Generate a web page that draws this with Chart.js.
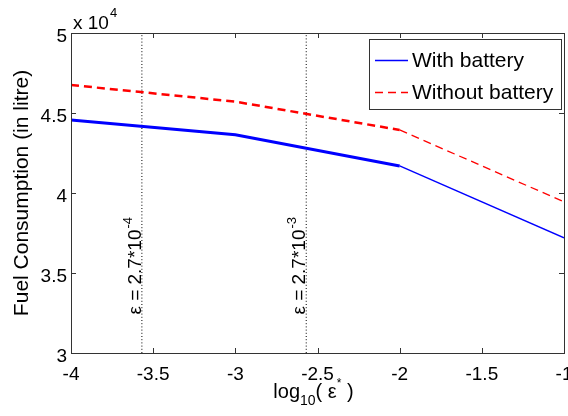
<!DOCTYPE html>
<html><head><meta charset="utf-8">
<script src="https://cdn.jsdelivr.net/npm/chart.js@4/dist/chart.umd.min.js"></script>
<style>html,body{margin:0;padding:0;background:#fff}canvas{display:block}</style>
</head><body>
<canvas id="c" width="568" height="416"></canvas>
<script>
// ---- data ----
const logEps = [-4, -3, -2, -1];
const withBattery = [44560, 43640, 41690, 37200];
const withoutBattery = [46750, 45710, 43940, 39450];
const seriesNames = ['With battery', 'Without battery'];
const epsMarkers = [2.7e-4, 2.7e-3];
const epsExponents = ['-4', '-3'];
const yRange = [30000, 50000];
const xRange = [-4, -1];

const FONT = "'Liberation Sans', Arial, Helvetica, sans-serif";
const AX = '#333333';

function pts(xs, ys) { return xs.map((x, i) => ({x: x, y: ys[i]})); }
const markerSets = epsMarkers.map(e => ({
  label: 'marker', data: [{x: Math.log10(e), y: yRange[0]}, {x: Math.log10(e), y: yRange[1]}],
  borderColor: '#000', borderWidth: 1, borderDash: [1, 2.2], pointRadius: 0, fill: false
}));

const thickBlue = ctx => (ctx.p1.parsed.x <= -2 + 1e-9 ? 3 : 1.4);
const thickRed = ctx => (ctx.p1.parsed.x <= -2 + 1e-9 ? 2.5 : 1.3);

const boxPlugin = {
  id: 'box',
  afterDraw(chart) {
    const {ctx, chartArea: a, scales: {x, y}} = chart;
    ctx.save();
    ctx.strokeStyle = AX; ctx.lineWidth = 1;
    ctx.strokeRect(Math.round(a.left) + 0.5, Math.round(a.top) + 0.5, Math.round(a.right - a.left), Math.round(a.bottom - a.top));
    const tl = 5;
    ctx.beginPath();
    x.ticks.forEach(t => {
      const px = Math.round(x.getPixelForValue(t.value)) + 0.5;
      ctx.moveTo(px, a.bottom); ctx.lineTo(px, a.bottom - tl);
      ctx.moveTo(px, a.top); ctx.lineTo(px, a.top + tl);
    });
    y.ticks.forEach(t => {
      const py = Math.round(y.getPixelForValue(t.value)) + 0.5;
      ctx.moveTo(a.left, py); ctx.lineTo(a.left + tl, py);
      ctx.moveTo(a.right, py); ctx.lineTo(a.right - tl, py);
    });
    ctx.stroke();

    ctx.fillStyle = '#000';
    ctx.textBaseline = 'alphabetic';
    ctx.font = '19px ' + FONT; ctx.textAlign = 'left';
    ctx.fillText('x 10', a.left + 2, a.top - 4);
    const w10 = ctx.measureText('x 10').width;
    ctx.font = '13px ' + FONT;
    ctx.fillText('4', a.left + 3 + w10, a.top - 16);

    const parts = [
      {t: 'log', s: 20, dy: 0}, {t: '10', s: 14, dy: 7}, {t: '( ε', s: 20, dy: 0},
      {t: '*', s: 12, dy: -11}, {t: ' )', s: 20, dy: 0}
    ];
    let tot = 0;
    parts.forEach(p => { ctx.font = p.s + 'px ' + FONT; p.w = ctx.measureText(p.t).width; tot += p.w; });
    let cx = (a.left + a.right) / 2 - tot / 2 - 4;
    const by = a.bottom + 45;
    parts.forEach(p => { ctx.font = p.s + 'px ' + FONT; ctx.fillText(p.t, cx, by + p.dy); cx += p.w; });

    epsMarkers.forEach((e, i) => {
      const px = x.getPixelForValue(Math.log10(e)) - 1;
      const py = y.getPixelForValue(32400);
      ctx.save();
      ctx.translate(px, py);
      ctx.rotate(-Math.PI / 2);
      ctx.font = '19px ' + FONT; ctx.textAlign = 'left';
      const main = 'ε = 2.7*10';
      ctx.fillText(main, 0, 0);
      const mw = ctx.measureText(main).width;
      ctx.font = '13px ' + FONT;
      ctx.fillText(epsExponents[i], mw + 1, -9);
      ctx.restore();
    });

    const lx = 369, ly = 39, lw = 192, lh = 70;
    ctx.fillStyle = '#fff'; ctx.fillRect(lx, ly, lw, lh);
    ctx.strokeStyle = AX; ctx.lineWidth = 1;
    ctx.strokeRect(lx + 0.5, ly + 0.5, lw, lh);
    const rows = [60, 92];
    chart.data.datasets.slice(0, 2).forEach((ds, i) => {
      ctx.beginPath();
      ctx.strokeStyle = ds.borderColor; ctx.lineWidth = 1.4;
      ctx.setLineDash(ds.borderDash || []);
      ctx.moveTo(lx + 6, rows[i] + 0.5); ctx.lineTo(lx + 39, rows[i] + 0.5);
      ctx.stroke();
      ctx.setLineDash([]);
      ctx.fillStyle = '#000'; ctx.font = '21px ' + FONT;
      ctx.textBaseline = 'middle';
      ctx.fillText(ds.label, lx + 43, rows[i] + 1);
    });
    ctx.restore();
  }
};

new Chart(document.getElementById('c'), {
  type: 'line',
  data: {
    datasets: [
      {label: seriesNames[0], data: pts(logEps, withBattery), borderColor: '#0000ff',
       borderWidth: 3, pointRadius: 0, tension: 0, segment: {borderWidth: thickBlue}},
      {label: seriesNames[1], data: pts(logEps, withoutBattery), borderColor: '#ff0000',
       borderWidth: 2.5, borderDash: [8, 5], pointRadius: 0, tension: 0, segment: {borderWidth: thickRed}},
      ...markerSets
    ]
  },
  options: {
    responsive: false, animation: false, devicePixelRatio: 1,
    layout: {padding: {top: 33, right: 4, left: 0, bottom: 0}},
    plugins: {legend: {display: false}, tooltip: {enabled: false}},
    scales: {
      x: {
        type: 'linear', min: xRange[0], max: xRange[1],
        grid: {display: false, drawTicks: false}, border: {display: false},
        ticks: {stepSize: 0.5, color: '#000', font: {size: 19, family: FONT}, padding: 10, maxRotation: 0,
                callback: v => String(v)},
        afterFit: s => { s.height = 63; s.paddingRight = 0; s.paddingLeft = 0; }
      },
      y: {
        type: 'linear', min: yRange[0], max: yRange[1],
        grid: {display: false, drawTicks: false}, border: {display: false},
        ticks: {stepSize: 5000, color: '#000', font: {size: 19, family: FONT}, padding: 4, labelOffset: 3.5,
                callback: v => String(v / 1e4)},
        title: {display: true, text: 'Fuel Consumption (in litre)', color: '#000',
                font: {size: 21, family: FONT}, padding: {top: 10, bottom: 0}},
        afterFit: s => { s.width = 71; s.paddingTop = 0; s.paddingBottom = 0; }
      }
    }
  },
  plugins: [boxPlugin]
});
</script>
</body></html>
